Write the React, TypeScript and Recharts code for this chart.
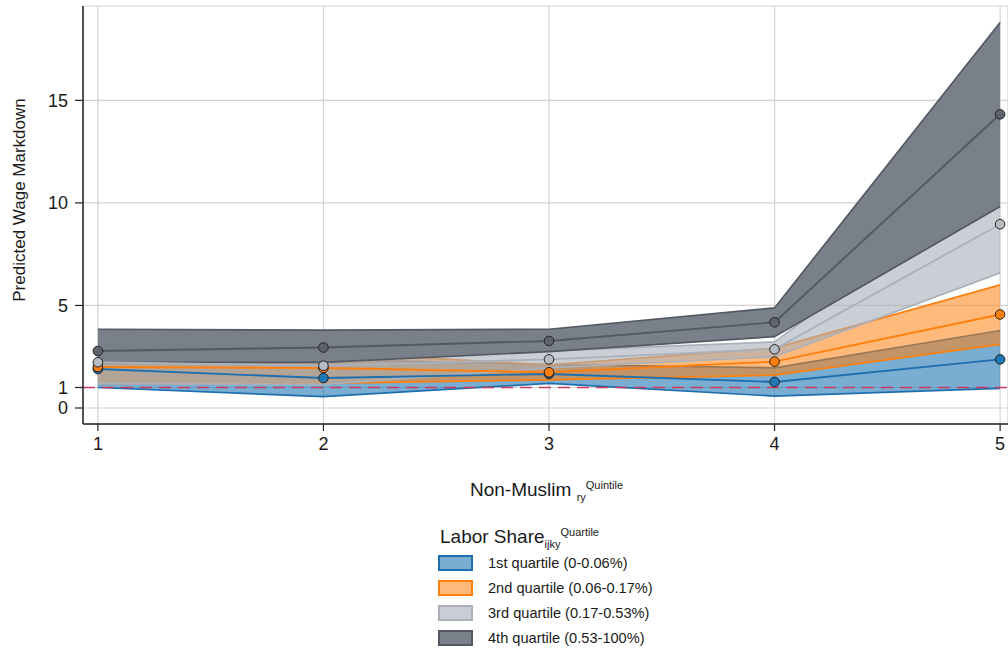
import React from "react";
import {
  ComposedChart,
  Area,
  Line,
  XAxis,
  YAxis,
  CartesianGrid,
  ReferenceLine,
} from "recharts";

// Non-Muslim population quintile (x) by labor-share quartile.
const quintiles = [1, 2, 3, 4, 5];

const q1Mean = [1.9, 1.46, 1.66, 1.27, 2.37];
const q1Low = [1.0, 0.55, 1.2, 0.58, 0.96];
const q1High = [2.8, 2.37, 2.12, 1.96, 3.78];

const q2Mean = [2.0, 1.95, 1.74, 2.26, 4.56];
const q2Low = [1.2, 1.2, 1.37, 1.6, 3.1];
const q2High = [2.8, 2.7, 2.11, 2.92, 6.0];

const q3Mean = [2.23, 2.06, 2.37, 2.86, 8.96];
const q3Low = [1.2, 1.15, 1.95, 2.5, 6.59];
const q3High = [3.26, 2.97, 2.79, 3.22, 11.33];

const q4Mean = [2.78, 2.95, 3.27, 4.18, 14.32];
const q4Low = [2.22, 2.22, 2.75, 3.48, 9.82];
const q4High = [3.84, 3.8, 3.84, 4.88, 18.8];

const yTicks = [0, 1, 5, 10, 15];

const FONT = "'Liberation Sans', Arial, sans-serif";

const SERIES = [
  { key: "q1", label: "1st quartile (0-0.06%)", line: "#1f6fae", fill: "#1f77b4", fillOpacity: 0.6, dot: "#1f77b4" },
  { key: "q2", label: "2nd quartile (0.06-0.17%)", line: "#ff7f0e", fill: "#ff7f0e", fillOpacity: 0.55, dot: "#ff7f0e" },
  { key: "q3", label: "3rd quartile (0.17-0.53%)", line: "#aab1ba", fill: "#a9afb9", fillOpacity: 0.6, dot: "#b6bcc4" },
  { key: "q4", label: "4th quartile (0.53-100%)", line: "#525963", fill: "#7a808a", fillOpacity: 1, dot: "#5e646e" },
];

const data = quintiles.map((x, i) => ({
  x,
  q1: q1Mean[i],
  q1Band: [q1Low[i], q1High[i]],
  q2: q2Mean[i],
  q2Band: [q2Low[i], q2High[i]],
  q3: q3Mean[i],
  q3Band: [q3Low[i], q3High[i]],
  q4: q4Mean[i],
  q4Band: [q4Low[i], q4High[i]],
}));

export default function App() {
  return (
    <div style={{ position: "absolute", left: 0, top: 0, width: 1008, height: 652, fontFamily: FONT, color: "#1a1a1a" }}>
      <ComposedChart
        width={1008}
        height={652}
        data={data}
        margin={{ top: 6, right: 0, left: 0, bottom: 188 }}
        style={{ fontFamily: FONT }}
      >
        <CartesianGrid stroke="#d3d3d3" strokeWidth={1.2} />
        <XAxis
          dataKey="x"
          type="number"
          domain={[0.934, 5.035]}
          ticks={quintiles}
          interval={0}
          allowDataOverflow
          height={40}
          tickSize={7}
          tickMargin={6}
          tick={{ fontSize: 18, fill: "#1a1a1a" }}
          axisLine={{ stroke: "#222", strokeWidth: 1.5 }}
          tickLine={{ stroke: "#222", strokeWidth: 1.2 }}
        />
        <YAxis
          type="number"
          domain={[-0.78, 19.6]}
          ticks={yTicks}
          interval={0}
          allowDataOverflow
          width={83}
          tickSize={8}
          tickMargin={7}
          tick={{ fontSize: 18, fill: "#1a1a1a" }}
          axisLine={{ stroke: "#222", strokeWidth: 1.5 }}
          tickLine={{ stroke: "#222", strokeWidth: 1.2 }}
        />
        <ReferenceLine y={1} stroke="#c93a5e" strokeWidth={1.5} strokeDasharray="12 7" />
        {SERIES.map((s) => (
          <Area
            key={s.key + "Band"}
            dataKey={s.key + "Band"}
            type="linear"
            stroke={s.line}
            strokeWidth={1.7}
            fill={s.fill}
            fillOpacity={s.fillOpacity}
            dot={false}
            activeDot={false}
            isAnimationActive={false}
          />
        ))}
        {SERIES.map((s) => (
          <Line
            key={s.key}
            dataKey={s.key}
            type="linear"
            stroke={s.line}
            strokeWidth={1.9}
            dot={{ r: 4.8, fill: s.dot, stroke: "#222", strokeWidth: 1 }}
            activeDot={false}
            isAnimationActive={false}
          />
        ))}
      </ComposedChart>

      {/* y-axis title */}
      <div
        style={{
          position: "absolute",
          left: 20,
          top: 200,
          transform: "translate(-50%, -50%) rotate(-90deg)",
          fontSize: 17,
          whiteSpace: "nowrap",
        }}
      >
        Predicted Wage Markdown
      </div>

      {/* x-axis title */}
      <div style={{ position: "absolute", left: 470, top: 479, fontSize: 19, whiteSpace: "nowrap" }}>
        Non-Muslim{" "}
        <sub style={{ fontSize: 11 }}>ry</sub>
        <sup style={{ fontSize: 11 }}>Quintile</sup>
      </div>

      {/* legend */}
      <div style={{ position: "absolute", left: 440, top: 526, fontSize: 19, whiteSpace: "nowrap" }}>
        Labor Share
        <sub style={{ fontSize: 11 }}>ijky</sub>
        <sup style={{ fontSize: 11 }}>Quartile</sup>
      </div>
      {SERIES.map((s, i) => (
        <div
          key={s.key}
          style={{
            position: "absolute",
            left: 438,
            top: 554 + i * 25,
            height: 18,
            display: "flex",
            alignItems: "center",
            fontSize: 14.6,
            whiteSpace: "nowrap",
          }}
        >
          <span
            style={{
              display: "inline-block",
              width: 31,
              height: 12,
              border: `2px solid ${s.line}`,
              boxSizing: "content-box",
              marginRight: 15,
              backgroundColor: `color-mix(in srgb, ${s.fill} ${Math.round(s.fillOpacity * 100)}%, white)`,
            }}
          />
          {s.label}
        </div>
      ))}
    </div>
  );
}
